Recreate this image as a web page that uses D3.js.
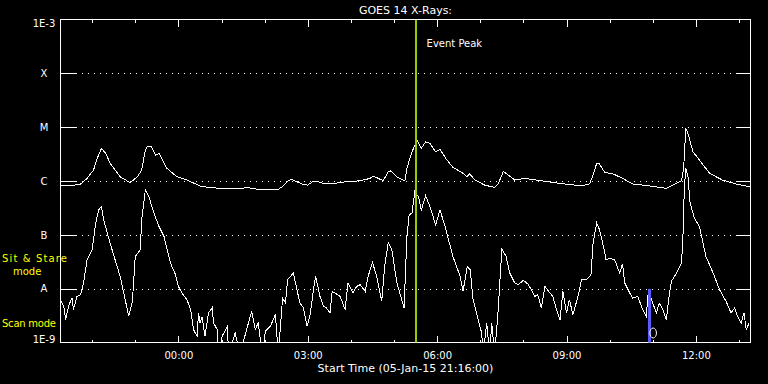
<!DOCTYPE html>
<html>
<head>
<meta charset="utf-8">
<script src="https://cdn.jsdelivr.net/npm/d3@7"></script>
<style>
  body { margin: 0; background: #000; }
  svg { display: block; font-family: "DejaVu Sans", sans-serif; }
</style>
</head>
<body>
<script>
// start of the plotted interval, minutes are counted from here
const startTime = Date.UTC(2015, 0, 5, 21, 16);
const spanMinutes = 960;

// GOES 14 long channel (1-8 A), minutes from start / flux W m-2
const longMinutes = [0,18,28,37,46,51,57,63,69,83,97,107,113,118,121,126,132,137,141,148,
  162,176,194,206,233,261,275,303,310,317,322,326,336,344,351,357,368,382,398,417,
  431,435,449,456,459,468,479,482,486,491,496,502,508,514,522,528,537,546,560,565,
  569,577,590,604,609,616,620,632,646,669,692,725,736,741,746,750,757,769,782,796,
  820,843,852,864,867,870,873,880,889,903,921,940,960];
const longFlux = [8.1e-7,8.3e-7,8.8e-7,1.12e-6,1.6e-6,2.63e-6,4.03e-6,3.26e-6,2.13e-6,1.2e-6,
  9.3e-7,1.2e-6,1.6e-6,3.75e-6,4.45e-6,4.45e-6,3.03e-6,3.26e-6,2.63e-6,1.72e-6,
  1.2e-6,1.04e-6,8.1e-7,7.6e-7,7.1e-7,7.5e-7,7.0e-7,7.0e-7,8.1e-7,1.01e-6,
  1.07e-6,1.01e-6,8.8e-7,8.4e-7,9.7e-7,9.9e-7,8.8e-7,9.1e-7,9.7e-7,1.01e-6,
  1.12e-6,1.24e-6,1.01e-6,1.49e-6,1.55e-6,1.2e-6,1.0e-6,1.72e-6,2.63e-6,4.03e-6,
  5.74e-6,4.03e-6,5.34e-6,4.99e-6,3.49e-6,3.86e-6,2.52e-6,1.79e-6,1.39e-6,1.2e-6,
  1.35e-6,1.04e-6,8.4e-7,7.6e-7,8.8e-7,1.49e-6,1.39e-6,1.04e-6,1.12e-6,1.01e-6,
  9.1e-7,8.1e-7,8.8e-7,1.29e-6,2.13e-6,2.07e-6,1.45e-6,1.35e-6,1.12e-6,8.8e-7,
  8.1e-7,7.3e-7,8.4e-7,1.01e-6,1.72e-6,9.46e-6,7.64e-6,3.49e-6,2.45e-6,1.39e-6,
  1.04e-6,8.8e-7,7.8e-7];

// short channel (0.5-4 A); values under 1E-9 are dropouts and get clipped
const shortMinutes = [0,5,7,12,16,18,23,28,32,37,44,49,53,57,60,69,83,90,95,100,
  104,111,113,118,123,130,137,144,153,160,164,169,176,181,185,190,192,194,197,201,
  206,211,213,218,220,225,232,234,243,250,257,266,271,275,281,285,292,299,303,309,
  313,316,324,329,333,338,343,347,352,355,361,366,370,375,378,382,389,396,400,407,
  412,417,424,428,434,440,447,451,456,461,468,472,478,482,485,489,493,498,502,508,
  514,522,528,535,546,556,560,566,570,574,581,586,588,593,597,600,604,609,614,620,
  625,632,637,644,651,655,660,664,669,674,681,685,690,695,699,704,708,713,720,725,
  732,738,741,746,750,757,759,764,771,778,782,785,792,796,803,810,815,818,824,829,
  833,838,843,846,850,857,864,866,868,870,873,876,882,889,898,908,917,926,933,938,
  942,947,951,954,958];
const shortFlux = [6.25e-9,4.4e-9,2.67e-9,5.05e-9,6.7e-9,4.1e-9,7.2e-9,7.7e-9,1.28e-8,3.44e-8,
  5.3e-8,1.65e-7,2.9e-7,3.34e-7,1.9e-7,7.0e-8,1.69e-8,6.25e-9,3.07e-9,5.8e-9,
  3.96e-8,5.3e-8,1.9e-7,6.8e-7,5.1e-7,2.52e-7,1.43e-7,9.3e-8,2.99e-8,1.82e-8,
  1.1e-8,8.3e-9,6.25e-9,4.1e-9,1.74e-9,1.31e-9,3.55e-9,2.3e-9,3.0e-9,1.31e-9,
  3.55e-9,4.4e-9,2.3e-9,1.74e-9,6e-10,1.31e-9,2.0e-9,6e-10,1.5e-9,6e-10,
  1.4e-9,3.8e-9,1.74e-9,2.3e-9,6e-10,1.62e-9,2.0e-9,3.3e-9,6e-10,6.7e-9,
  5.4e-9,1.47e-8,1.95e-8,9.6e-9,5.4e-9,4.4e-9,2.0e-9,3.07e-9,9.6e-9,1.69e-8,
  7.2e-9,4.7e-9,4.4e-9,3.55e-9,8.9e-9,8.3e-9,7.2e-9,4.1e-9,1.28e-8,8.3e-9,
  1.1e-8,1.19e-8,8.9e-9,1.69e-8,3.07e-8,1.69e-8,5.8e-9,2.59e-8,7.2e-8,5.3e-8,
  1.28e-8,8.3e-9,4.4e-9,9.3e-8,2.35e-7,2.52e-7,6.3e-7,5.1e-7,2.9e-7,5.3e-7,
  3.34e-7,1.53e-7,2.9e-7,1.43e-7,3.96e-8,1.69e-8,8.9e-9,2.59e-8,2.25e-8,6.25e-9,
  2.67e-9,1.5e-9,6e-10,2.3e-9,6e-10,2.3e-9,6e-10,4.1e-9,5.4e-8,3.96e-8,
  1.95e-8,1.28e-8,1.19e-8,1.43e-8,1.19e-8,9.6e-9,7.2e-9,7.7e-9,4.4e-9,1.1e-8,
  8.3e-9,7.2e-9,4.1e-9,2.67e-9,8.9e-9,3.55e-9,6.25e-9,3.3e-9,7.2e-9,1.47e-8,
  1.47e-8,1.82e-8,7.0e-8,1.65e-7,1.24e-7,4.9e-8,3.44e-8,3.7e-8,3.44e-8,1.95e-8,
  2.9e-8,1.28e-8,8.3e-9,6.7e-9,7.2e-9,4.1e-9,3.07e-9,9.6e-9,5.4e-9,3.55e-9,
  5.4e-9,4.1e-9,2.67e-9,6.25e-9,1.37e-8,1.95e-8,2.99e-8,9.3e-8,7.8e-7,1.72e-6,
  1.2e-6,3.86e-7,2.04e-7,1.43e-7,3.96e-8,1.95e-8,9.6e-9,5.8e-9,3.55e-9,4.4e-9,
  3.07e-9,2.3e-9,3.55e-9,1.74e-9,2.3e-9];

// flare class levels on the left axis
const levelValues = [1e-9, 1e-8, 1e-7, 1e-6, 1e-5, 1e-4, 1e-3];
const levelLabels = ["1E-9", "A", "B", "C", "M", "X", "1E-3"];

// markers
const eventPeakMinute = 494;   // 05:30
const scanMarkMinute = 819;    // 10:55
const scanMarkTop = 1e-8;

const width = 768, height = 384;
const plot = { left: 60.5, right: 750.5, top: 19.5, bottom: 342.5 };

const toDate = m => new Date(startTime + m * 60000);

const x = d3.scaleUtc()
    .domain([toDate(0), toDate(spanMinutes)])
    .range([plot.left, plot.right]);

const y = d3.scaleLog()
    .domain([1e-9, 1e-3])
    .range([plot.bottom, plot.top]);

const svg = d3.select("body").append("svg")
    .attr("width", width)
    .attr("height", height)
    .style("background", "#000");

svg.append("clipPath")
    .attr("id", "plotclip")
  .append("rect")
    .attr("x", plot.left)
    .attr("y", plot.top)
    .attr("width", plot.right - plot.left)
    .attr("height", plot.bottom - plot.top);

// dotted level lines
svg.append("g")
    .selectAll("line")
    .data(levelValues.slice(1, -1))
    .enter().append("line")
      .attr("x1", plot.left + 15)
      .attr("x2", plot.right - 15)
      .attr("y1", d => Math.round(y(d)) + 0.5)
      .attr("y2", d => Math.round(y(d)) + 0.5)
      .attr("stroke", "#fff")
      .attr("stroke-dasharray", "1,5")
      .attr("shape-rendering", "crispEdges");

// level ticks on both sides
svg.append("g")
    .selectAll("line")
    .data(levelValues.slice(1, -1))
    .enter().append("line")
      .attr("x1", plot.left)
      .attr("x2", plot.left + 15)
      .attr("y1", d => Math.round(y(d)) + 0.5)
      .attr("y2", d => Math.round(y(d)) + 0.5)
      .attr("stroke", "#fff")
      .attr("shape-rendering", "crispEdges");

svg.append("g")
    .selectAll("line")
    .data(levelValues.slice(1, -1))
    .enter().append("line")
      .attr("x1", plot.right - 15)
      .attr("x2", plot.right)
      .attr("y1", d => Math.round(y(d)) + 0.5)
      .attr("y2", d => Math.round(y(d)) + 0.5)
      .attr("stroke", "#fff")
      .attr("shape-rendering", "crispEdges");

// time ticks, minor hourly and major every 3 h, top and bottom
const hourly = d3.utcHour.every(1), threeHourly = d3.utcHour.every(3);
const fmt = d3.utcFormat("%H:%M");

function styleAxis(g) {
  g.select(".domain").remove();
  g.selectAll("line").attr("stroke", "#fff").attr("shape-rendering", "crispEdges");
  g.selectAll("text").attr("fill", "#fff")
    .attr("font-family", "DejaVu Sans, sans-serif").attr("font-size", 10);
}

svg.append("g")
    .attr("transform", `translate(0,${plot.bottom})`)
    .call(d3.axisBottom(x).ticks(hourly).tickSize(-3).tickFormat(""))
    .call(styleAxis);

svg.append("g")
    .attr("transform", `translate(0,${plot.bottom})`)
    .call(d3.axisBottom(x).ticks(threeHourly).tickSize(-7).tickPadding(9).tickFormat(fmt))
    .call(styleAxis);

svg.append("g")
    .attr("transform", `translate(0,${plot.top})`)
    .call(d3.axisTop(x).ticks(hourly).tickSize(-3).tickFormat(""))
    .call(styleAxis);

svg.append("g")
    .attr("transform", `translate(0,${plot.top})`)
    .call(d3.axisTop(x).ticks(threeHourly).tickSize(-7).tickFormat(""))
    .call(styleAxis);

// frame
svg.append("rect")
    .attr("x", plot.left)
    .attr("y", plot.top)
    .attr("width", plot.right - plot.left)
    .attr("height", plot.bottom - plot.top)
    .attr("fill", "none")
    .attr("stroke", "#fff")
    .attr("shape-rendering", "crispEdges");

// level labels
svg.append("g")
    .attr("font-size", 10)
    .attr("fill", "#fff")
    .attr("text-anchor", "middle")
    .selectAll("text")
    .data(levelValues)
    .enter().append("text")
      .attr("x", 44)
      .attr("y", (d, i) => y(d) + (i === 0 ? 0.5 : i === levelValues.length - 1 ? 7.5 : 3.8))
      .text((d, i) => levelLabels[i]);

// mode labels
const modes = svg.append("g")
    .attr("font-size", 10)
    .attr("fill", "#ffff00");
modes.append("text").attr("x", 2).attr("y", 262).attr("textLength", 65).text("Sit & Stare");
modes.append("text").attr("x", 13).attr("y", 275).text("mode");
modes.append("text").attr("x", 2).attr("y", 327).attr("textLength", 54).text("Scan mode");

// curves
const line = d3.line()
    .x(d => x(toDate(d[0])))
    .y(d => y(d[1]));

const curves = svg.append("g").attr("clip-path", "url(#plotclip)");

curves.append("path")
    .datum(longMinutes.map((m, i) => [m, longFlux[i]]))
    .attr("d", line)
    .attr("fill", "none")
    .attr("stroke", "#fff")
    .attr("stroke-width", 1)
    .attr("shape-rendering", "crispEdges");

curves.append("path")
    .datum(shortMinutes.map((m, i) => [m, shortFlux[i]]))
    .attr("d", line)
    .attr("fill", "none")
    .attr("stroke", "#fff")
    .attr("stroke-width", 1)
    .attr("shape-rendering", "crispEdges");

// event peak
curves.append("line")
    .attr("x1", x(toDate(eventPeakMinute)))
    .attr("x2", x(toDate(eventPeakMinute)))
    .attr("y1", plot.top)
    .attr("y2", plot.bottom)
    .attr("stroke", "#99cc00")
    .attr("stroke-width", 2)
    .attr("shape-rendering", "crispEdges");

svg.append("text")
    .attr("x", x(toDate(eventPeakMinute)) + 11)
    .attr("y", 46.5)
    .attr("font-size", 10)
    .attr("fill", "#fff")
    .text("Event Peak");

// scan mode mark
curves.append("line")
    .attr("x1", x(toDate(scanMarkMinute)))
    .attr("x2", x(toDate(scanMarkMinute)))
    .attr("y1", y(scanMarkTop))
    .attr("y2", plot.bottom)
    .attr("stroke", "#5a5aff")
    .attr("stroke-width", 3)
    .attr("shape-rendering", "crispEdges");

svg.append("ellipse")
    .attr("cx", x(toDate(scanMarkMinute)) + 4)
    .attr("cy", 333)
    .attr("rx", 3.3)
    .attr("ry", 5)
    .attr("fill", "none")
    .attr("stroke", "#fff");

// titles
svg.append("text")
    .attr("x", (plot.left + plot.right) / 2)
    .attr("y", 14)
    .attr("text-anchor", "middle")
    .attr("font-size", 11)
    .attr("fill", "#fff")
    .text("GOES 14 X-Rays:");

svg.append("text")
    .attr("x", (plot.left + plot.right) / 2)
    .attr("y", 372)
    .attr("text-anchor", "middle")
    .attr("font-size", 11)
    .attr("fill", "#fff")
    .text("Start Time (05-Jan-15 21:16:00)");
</script>
</body>
</html>
